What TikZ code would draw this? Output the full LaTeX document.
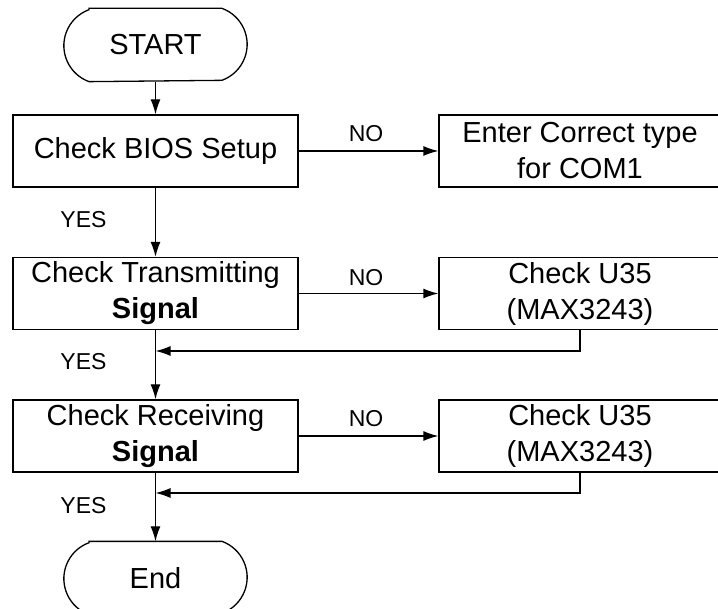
\documentclass[tikz,border=0pt]{standalone}
\usepackage{fontspec}
\setmainfont{Liberation Sans}
\usetikzlibrary{arrows.meta,calc}
\newcommand{\termoutline}[1]{
  \draw ($(#1.north west)+(25.2,0)$) -- ($(#1.north east)-(25.2,0)$)
    arc[start angle=70,end angle=-70,radius=38.3pt]
    -- ($(#1.south west)+(25.2,0)$)
    arc[start angle=250,end angle=110,radius=38.3pt] -- cycle;
}

\begin{document}
\begin{tikzpicture}[x=1pt,y=-1pt,line width=1.3pt,>={Latex[length=15pt,width=10pt]}]
\tikzstyle{term}=[rectangle,minimum width=182pt,minimum height=72pt,inner sep=0pt,font=\fontsize{29}{36}\selectfont]
\tikzstyle{proc}=[draw,rectangle,minimum height=72pt,inner sep=0pt,align=center,font=\fontsize{29}{36}\selectfont]
\tikzstyle{lbl}=[inner sep=0pt,font=\fontsize{23}{26}\selectfont]

\useasboundingbox (0,0) rectangle (718,609);

% main column
\node[term] (start) at (155.5,45) {START};
\node[proc,minimum width=285pt] (bios) at (155.5,151) {Check BIOS Setup};
\node[proc,minimum width=285pt] (trans) at (155.5,293.5) {Check Transmitting\\\textbf{Signal}};
\node[proc,minimum width=285pt] (recv) at (155.5,436) {Check Receiving\\\textbf{Signal}};
\node[term] (end) at (155.5,578) {End};
\termoutline{start}
\termoutline{end}

% right column
\node[proc,minimum width=282pt] (com) at (580,151) {Enter Correct type\\for COM1};
\node[proc,minimum width=282pt] (ua) at (580,293.5) {Check U35\\(MAX3243)};
\node[proc,minimum width=282pt] (ub) at (580,436) {Check U35\\(MAX3243)};

\coordinate (joina) at (155.5,351);
\coordinate (joinb) at (155.5,493);

\draw[->] (start) -- (bios);
\draw[->] (bios) -- (trans);
\draw[->] (trans) -- (recv);
\draw[->] (recv) -- (end);

\draw[->] (bios) -- (com);
\draw[->] (trans) -- (ua);
\draw[->] (recv) -- (ub);

\draw[->] (ua.south) |- (joina);
\draw[->] (ub.south) |- (joinb);

\node[lbl] (noa) at (366,134) {NO};
\node[lbl] (nob) at (366,277.5) {NO};
\node[lbl] (noc) at (366,418.5) {NO};
\node[lbl] (yesa) at (83.5,219.5) {YES};
\node[lbl] (yesb) at (83.5,361.5) {YES};
\node[lbl] (yesc) at (83.5,506) {YES};
\end{tikzpicture}
\end{document}
